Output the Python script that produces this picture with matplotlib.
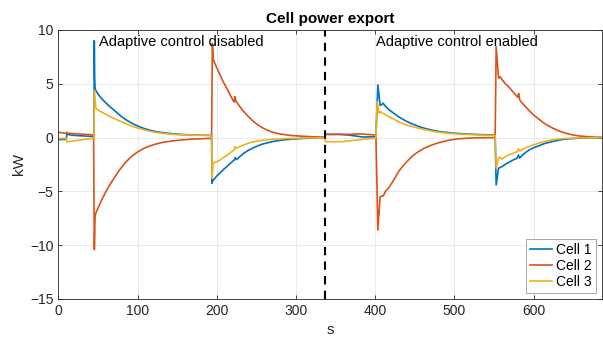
import matplotlib
matplotlib.use("Agg")
import matplotlib.pyplot as plt

plt.rcParams["font.family"] = ["Liberation Sans", "DejaVu Sans"]

# values (time in s, power in kW)
cell1_t = [0, 10, 10.8, 20, 45, 45.4, 45.9, 46.5, 50, 55, 59, 64, 69.5, 75, 80, 85, 90, 95, 101, 108, 115,
           122, 132, 143, 155, 170, 193.5,
           194, 194.5, 198, 201, 204, 208, 212.7, 217, 221, 222.5, 223.5, 225, 229, 233.7, 240, 246, 252,
           258, 263, 270, 277, 284, 295, 310, 336.8,
           337, 337.5, 355, 366, 385, 401,
           403.4, 406.3, 408, 410, 412, 416, 420, 425, 429.5, 435, 440, 445, 450.5, 457, 464, 471.6, 480,
           492.6, 505, 520, 535, 551.5,
           552.8, 555.8, 560, 565, 570, 575, 579, 581, 582.5, 587, 593.7, 600, 606, 614, 623, 631, 640,
           657, 686]
cell1_p = [-0.2, -0.15, 0.3, 0.2, 0.1, 9.0, 5.5, 4.5, 4.05, 3.6, 3.3, 2.95, 2.6, 2.25, 1.94, 1.68, 1.45, 1.25, 1.05, 0.85, 0.7,
           0.57, 0.45, 0.36, 0.29, 0.24, 0.2,
           -4.25, -4.05, -3.75, -3.5, -3.3, -3.0, -2.7, -2.4, -2.15, -2.05, -1.87, -2.05, -1.78, -1.48, -1.18, -0.95, -0.76,
           -0.6, -0.5, -0.38, -0.29, -0.22, -0.14, -0.08, 0.0,
           0.5, 0.3, 0.3, 0.24, 0.05, 0.08,
           4.9, 3.0, 3.05, 3.2, 3.0, 2.7, 2.45, 2.18, 1.94, 1.7, 1.5, 1.32, 1.17, 0.98, 0.83, 0.7, 0.57,
           0.46, 0.38, 0.32, 0.27, 0.24,
           -4.4, -2.85, -2.7, -2.45, -2.25, -2.05, -1.93, -1.62, -1.9, -1.55, -1.18, -0.95, -0.78, -0.55, -0.38, -0.25, -0.14,
           -0.05, 0.0]

cell2_t = [0, 10, 10.8, 12, 44.5, 45.5, 46.4, 48, 50.5, 54, 59, 64, 69.5, 75, 80, 85, 90, 95, 101, 108, 115,
           122, 132, 143, 155, 170, 193.5,
           194.5, 195.8, 200, 204, 208, 212.7, 217, 221, 222.2, 223, 224, 226, 230, 233.7, 240, 246, 252, 258,
           263, 270, 277, 284, 295, 310, 320, 336.8,
           337, 369, 380, 401,
           403.4, 406.3, 410.5, 413, 416.8, 420, 425, 429.5, 435, 442, 448, 454.7, 462, 471.6, 480, 492.6,
           503, 513.7, 530, 551.5,
           552.8, 555.8, 558, 560, 564, 568.4, 574, 580, 581.2, 582.5, 587, 593.7, 600, 606, 614, 623, 631,
           640, 648, 657, 670, 686]
cell2_p = [0.5, 0.38, 0.5, 0.4, 0.25, -10.4, -7.29, -6.9, -6.5, -5.9, -5.18, -4.5, -3.88, -3.25, -2.75, -2.3, -1.92, -1.6, -1.3, -1.0, -0.8,
           -0.62, -0.44, -0.32, -0.22, -0.14, -0.07,
           8.76, 7.2, 6.5, 5.85, 5.2, 4.6, 3.95, 3.4, 3.3, 3.8, 3.45, 3.2, 2.8, 2.45, 1.95, 1.52, 1.18, 0.9,
           0.72, 0.52, 0.38, 0.29, 0.19, 0.12, 0.08, 0.05,
           0.3, 0.3, 0.35, 0.24,
           -8.59, -5.49, -5.4, -5.0, -4.71, -4.35, -3.75, -3.17, -2.65, -2.08, -1.65, -1.31, -0.98, -0.69, -0.48, -0.25,
           -0.13, -0.07, -0.02, 0.0,
           8.45, 5.51, 5.66, 5.4, 5.05, 4.73, 4.25, 3.75, 4.1, 3.5, 3.1, 2.56, 2.1, 1.75, 1.3, 0.92, 0.65,
           0.42, 0.27, 0.16, 0.07, 0.02]

cell3_t = [0, 10, 10.8, 20, 45, 45.5, 47.5, 50, 55, 59, 64, 69.5, 75, 80, 85, 90, 95, 101, 108, 115,
           122, 132, 143, 155, 170, 193.5,
           194.2, 195.5, 198, 204, 208, 212.7, 217, 221, 222.3, 223, 224.5, 229, 233.7, 240, 246, 252, 258,
           263, 270, 284, 310, 336.8,
           337, 358, 380, 398, 401,
           402.6, 405, 407, 410, 416, 420, 425, 429.5, 435, 440, 450.5, 460, 471.6, 480, 492.6, 505, 520,
           535, 551.5,
           552.8, 555.8, 557, 560, 565, 570, 575, 579, 581, 582.5, 587, 593.7, 600, 606, 614, 623, 631,
           640, 657, 686]
cell3_p = [-0.1, -0.05, -0.4, -0.3, -0.05, 4.42, 2.72, 2.55, 2.35, 2.2, 2.0, 1.8, 1.62, 1.46, 1.3, 1.15, 1.0, 0.87, 0.73, 0.6,
           0.5, 0.39, 0.31, 0.26, 0.23, 0.2,
           -3.8, -2.4, -2.3, -2.1, -1.88, -1.65, -1.4, -1.2, -1.12, -0.85, -1.0, -0.84, -0.7, -0.52, -0.4, -0.32, -0.25,
           -0.21, -0.16, -0.1, -0.04, 0.0,
           -0.38, -0.38, -0.2, -0.07, -0.05,
           3.34, 2.26, 2.4, 2.25, 2.0, 1.85, 1.65, 1.48, 1.3, 1.15, 0.95, 0.78, 0.61, 0.5, 0.4, 0.33, 0.28,
           0.23, 0.2,
           -2.85, -1.93, -1.8, -2.0, -1.75, -1.58, -1.43, -1.31, -1.05, -1.25, -1.05, -0.85, -0.68, -0.53, -0.36, -0.22, -0.13,
           -0.08, -0.03, 0.0]

switch_t = 337
labels = ["Cell 1", "Cell 2", "Cell 3"]
colors = ["#0072BD", "#D95319", "#EDB120"]
axis_grey = "#262626"

fig = plt.figure(figsize=(6.03, 3.40), dpi=100)
ax = fig.add_axes([0.0967, 0.1206, 0.9011, 0.7912])

for t, p, lab, c in zip([cell1_t, cell2_t, cell3_t], [cell1_p, cell2_p, cell3_p], labels, colors):
    ax.plot(t, p, color=c, lw=1.2, label=lab)

ax.axvline(switch_t, color="black", ls=(0, (4, 3)), lw=1.5)

ax.text(51, 8.9, "Adaptive control disabled", fontsize=10.5, va="center", color="black")
ax.text(401, 8.9, "Adaptive control enabled", fontsize=10.5, va="center", color="black")

ax.set_xlim(0, 686)
ax.set_ylim(-15, 10)
ax.set_xticks(range(0, 700, 100))
ax.set_yticks([-15, -10, -5, 0, 5, 10])
ax.grid(True, color="#e6e6e6", lw=0.6)
ax.set_axisbelow(True)
ax.tick_params(direction="in", top=True, right=True, length=3, width=0.6,
               colors=axis_grey, labelsize=10, labelcolor=axis_grey)
for sp in ax.spines.values():
    sp.set_color(axis_grey)
    sp.set_linewidth(0.6)

ax.set_xlabel("s", fontsize=11, color=axis_grey, labelpad=4)
ax.set_ylabel("kW", fontsize=11, color=axis_grey, labelpad=3)
ax.set_title("Cell power export", fontsize=11, fontweight="bold", pad=5)

leg = ax.legend(loc="lower right", fontsize=10, handlelength=1.6, handletextpad=0.3,
                labelspacing=0.15, borderpad=0.3, borderaxespad=0.4, fancybox=False, framealpha=1)
leg.get_frame().set_edgecolor("#999999")
leg.get_frame().set_linewidth(0.6)

fig.savefig("out.png", dpi=100)
